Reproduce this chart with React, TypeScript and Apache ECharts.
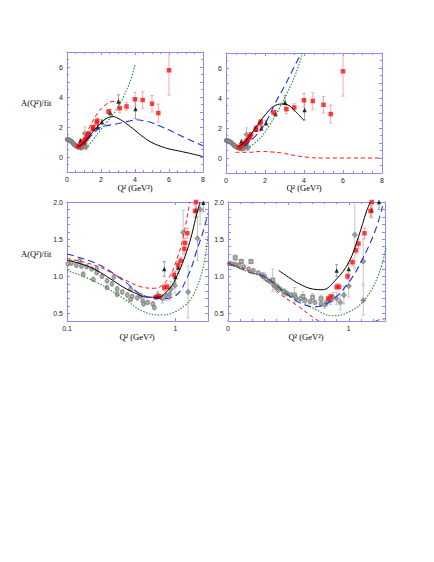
import React, { useEffect, useRef } from "react";
import * as echarts from "echarts";

// ---------- data (Q², A/fit, error) ----------
const grayCircles = [
  [0.01, 1.17, 0.02], [0.03, 1.17, 0.02], [0.06, 1.16, 0.02], [0.09, 1.15, 0.02], [0.13, 1.13, 0.02],
  [0.17, 1.1, 0.02], [0.21, 1.08, 0.02], [0.25, 1.05, 0.02], [0.28, 1.02, 0.02], [0.32, 0.96, 0.03],
  [0.35, 0.93, 0.03], [0.38, 0.9, 0.03], [0.41, 0.86, 0.03], [0.43, 0.83, 0.03], [0.46, 0.8, 0.03],
  [0.49, 0.77, 0.03], [0.52, 0.75, 0.03], [0.56, 0.72, 0.03], [0.6, 0.7, 0.03], [0.64, 0.68, 0.03],
  [0.68, 0.66, 0.03], [0.72, 0.65, 0.03], [0.77, 0.63, 0.03],
];
const graySquaresBR = [
  [0.06, 1.25, 0.04], [0.11, 1.2, 0.03], [0.19, 1.2, 0.03], [0.3, 1.0, 0.05], [0.37, 0.95, 0.15],
  [0.4, 0.85, 0.06], [0.47, 0.78, 0.05], [0.55, 0.75, 0.1], [0.62, 0.73, 0.06], [0.7, 0.72, 0.05],
  [0.77, 0.7, 0.05],
];
const grayDiamondsBR = [
  [0.8, 0.62, 0.05], [0.82, 0.65, 0.05], [0.85, 0.68, 0.06], [0.87, 0.72, 0.06], [0.9, 0.7, 0.08],
  [0.93, 0.65, 0.1], [0.96, 0.75, 0.12], [1.0, 0.87, 0.15], [1.05, 1.56, 0.45], [1.12, 1.2, 0.3],
  [1.12, 0.68, 0.2],
];
const redLow = [
  [0.66, 0.72, 0.03], [0.71, 0.73, 0.03], [0.79, 0.85, 0.04], [0.84, 0.86, 0.04], [0.97, 1.02, 0.04],
  [1.06, 1.15, 0.05], [1.12, 1.21, 0.05], [1.21, 1.37, 0.06], [1.23, 1.45, 0.06], [1.29, 1.58, 0.07],
  [1.52, 1.88, 0.08], [1.55, 2.0, 0.08],
];
const redHigh = [
  [1.75, 2.3, 0.1], [1.78, 2.42, 0.12], [2.44, 3.03, 0.15], [3.1, 3.25, 0.3], [3.5, 3.37, 0.25],
  [4.0, 3.85, 0.45], [4.45, 3.8, 0.55], [5.0, 3.55, 0.55], [5.37, 2.93, 0.6], [6.0, 5.78, 1.65],
];
const redBR = [
  [0.83, 0.7, 0.03], [0.85, 0.73, 0.03], [0.9, 0.86, 0.04], [0.92, 0.86, 0.04], [0.99, 1.0, 0.04],
  [1.03, 1.19, 0.05], [1.06, 1.35, 0.05], [1.08, 1.44, 0.06], [1.13, 1.58, 0.07], [1.18, 1.88, 0.08],
  [1.19, 2.0, 0.08],
];
const blackLow = [[0.79, 1.1, 0.1], [1.0, 0.99, 0.08], [1.06, 1.12, 0.08], [1.55, 1.89, 0.1], [1.81, 1.99, 0.12]];
const blackHigh = [[2.05, 2.33, 0.15], [2.54, 2.97, 0.2], [3.03, 3.7, 0.45], [4.03, 3.2, 0.65]];
const blackBR = [[0.9, 1.08, 0.08], [1.0, 1.1, 0.08], [1.19, 1.89, 0.1], [1.25, 2.0, 0.1]];
const circlesBL = [
  [0.102, 1.17, 0.03], [0.11, 1.18, 0.03], [0.122, 1.15, 0.03], [0.136, 1.14, 0.03], [0.152, 1.13, 0.03],
  [0.169, 1.1, 0.03], [0.188, 1.05, 0.03], [0.21, 1.0, 0.03], [0.234, 0.94, 0.03], [0.26, 0.9, 0.03],
  [0.29, 0.83, 0.03], [0.323, 0.79, 0.03], [0.36, 0.75, 0.03], [0.4, 0.73, 0.03], [0.446, 0.71, 0.03],
  [0.5, 0.67, 0.03], [0.555, 0.65, 0.03], [0.62, 0.63, 0.03],
  [0.141, 1.03, 0.03], [0.175, 0.96, 0.03], [0.234, 0.85, 0.03], [0.29, 0.76, 0.03], [0.386, 0.69, 0.03],
  [0.51, 0.63, 0.03], [0.64, 0.58, 0.03],
  [0.131, 1.21, 0.03], [0.188, 1.1, 0.03], [0.27, 0.99, 0.03], [0.386, 0.83, 0.03], [0.48, 0.74, 0.03],
];
const diamondsBL = [
  [0.69, 0.75, 0.05], [0.76, 0.7, 0.06], [0.82, 0.74, 0.06], [0.88, 0.76, 0.08], [0.91, 0.83, 0.1],
  [0.99, 0.875, 0.1], [1.18, 1.59, 0.3], [1.31, 0.79, 0.35], [1.6, 1.51, 0.3], [1.69, 1.9, 0.2],
];

// ---------- model curves [Q², A/fit] ----------
const blackTL = [[0.6, 0.7], [0.8, 0.78], [1.0, 0.98], [1.25, 1.3], [1.5, 1.65], [1.75, 1.98], [2.0, 2.28], [2.25, 2.52], [2.5, 2.66], [2.7, 2.69], [3.0, 2.58], [3.5, 2.22], [4.0, 1.78], [4.5, 1.32], [5.0, 0.96], [5.5, 0.72], [6.0, 0.54], [6.5, 0.42], [7.0, 0.3], [7.5, 0.17], [8.0, 0.03]];
const blueTL = [[1.2, 1.15], [1.5, 1.5], [1.9, 1.93], [2.3, 2.08], [2.8, 2.18], [3.3, 2.3], [3.8, 2.43], [4.1, 2.48], [4.5, 2.42], [5.0, 2.28], [5.5, 2.05], [6.0, 1.8], [6.5, 1.52], [7.0, 1.25], [7.5, 1.0], [8.0, 0.75]];
const redTL = [[0.62, 0.7], [0.9, 1.1], [1.3, 1.93], [1.8, 2.93], [2.28, 3.49], [2.77, 3.71], [3.1, 3.71]];
const greenTL = [[1.1, 0.6], [1.5, 1.1], [1.99, 1.82], [2.4, 2.4], [2.77, 2.93], [3.1, 3.55], [3.36, 4.1], [3.75, 5.16], [4.0, 6.16]];

const blackTR = [[0.65, 0.78], [0.99, 1.11], [1.5, 2.0], [2.02, 2.89], [2.44, 3.44], [2.87, 3.6], [3.13, 3.56], [3.56, 3.11], [4.0, 2.49]];
const blueTR = [[0.9, 0.78], [1.5, 1.44], [2.02, 2.33], [2.53, 3.67], [3.04, 4.89], [3.47, 6.0], [3.86, 7.0]];
const greenTR = [[1.08, 0.67], [1.68, 1.22], [2.19, 2.11], [2.7, 3.22], [3.13, 4.33], [3.56, 5.56], [3.93, 7.0]];
const redTR = [[0.48, 0.38], [1.16, 0.38], [1.85, 0.44], [2.36, 0.4], [2.87, 0.33], [3.56, 0.16], [4.24, 0.04], [4.9, 0.0], [8.0, 0.0]];

const blackBL = [[0.1, 1.22], [0.14, 1.16], [0.188, 1.08], [0.25, 0.97], [0.335, 0.85], [0.42, 0.78], [0.55, 0.72], [0.69, 0.72], [0.85, 0.81], [1.0, 0.96], [1.31, 1.39], [1.57, 1.83], [1.69, 2.0]];
const redBL = [[0.1, 1.24], [0.188, 1.14], [0.335, 0.96], [0.48, 0.86], [0.64, 0.84], [0.85, 0.96], [1.06, 1.28], [1.22, 1.63], [1.36, 2.0]];
const blueBL = [[0.1, 1.3], [0.188, 1.17], [0.335, 0.94], [0.48, 0.76], [0.74, 0.7], [0.98, 0.73], [1.31, 1.01], [1.6, 1.38], [1.8, 1.6], [2.0, 1.85]];
const greenBL = [[0.1, 1.08], [0.188, 0.92], [0.335, 0.7], [0.5, 0.53], [0.74, 0.48], [0.98, 0.52], [1.2, 0.6], [1.4, 0.7], [1.7, 0.98], [1.9, 1.3], [2.0, 1.55]];

const blackBRc = [[0.42, 1.08], [0.5, 0.99], [0.59, 0.9], [0.7, 0.83], [0.78, 0.82], [0.89, 0.95], [1.0, 1.19], [1.08, 1.53], [1.15, 1.89], [1.18, 2.0]];
const redBRc = [[0, 1.18], [0.17, 1.08], [0.31, 0.95], [0.45, 0.74], [0.59, 0.59], [0.72, 0.43], [0.8, 0.37], [0.95, 0.3], [1.1, 0.33], [1.2, 0.39], [1.25, 0.415], [1.3, 0.43]];
const blueBRc = [[0, 1.18], [0.17, 1.06], [0.31, 0.99], [0.45, 0.81], [0.59, 0.65], [0.72, 0.59], [0.86, 0.68], [1.0, 0.92], [1.11, 1.22], [1.22, 1.62], [1.28, 1.94]];
const greenBRc = [[0, 1.17], [0.17, 1.06], [0.31, 0.98], [0.45, 0.81], [0.59, 0.68], [0.72, 0.56], [0.86, 0.47], [1.0, 0.52], [1.14, 0.7], [1.25, 1.04], [1.31, 1.4]];

const topXTicks = [0, 2, 4, 6, 8];
const topYTicks = [0, 2, 4, 6];
const botYTicks = [0.5, 1.0, 1.5, 2.0];

// ---------- styling ----------
const FRAME = "#8c8cf0";
const RED = "#ff1010";
const PINK = "#f5a0a0";
const BLUE = "#2030e0";
const GREEN = "#1f8a2a";
const GRAY = "#808080";
const LGRAY = "#bdbdbd";

function axisPair(kind: "x" | "y", gridIndex: number, cfg: any) {
  const common: any = {
    gridIndex,
    type: cfg.type || "value",
    min: cfg.min,
    max: cfg.max,
    axisLine: { show: true, onZero: false, lineStyle: { color: FRAME, width: 1 } },
    axisTick: { show: true, inside: true, length: 3, lineStyle: { color: FRAME } },
    minorTick: cfg.minor ? { show: true, splitNumber: cfg.minor, length: 2, lineStyle: { color: FRAME } } : { show: false },
    splitLine: { show: false },
    minorSplitLine: { show: false },
  };
  if (cfg.interval !== undefined) common.interval = cfg.interval;
  if (cfg.logBase) common.logBase = cfg.logBase;
  const main = {
    ...common,
    position: kind === "x" ? "bottom" : "left",
    axisLabel: {
      show: true, fontSize: 7, color: "#222", fontFamily: "Liberation Sans", margin: 4,
      formatter: cfg.fmt, showMinLabel: true, showMaxLabel: true,
    },
  };
  const sec = { ...common, position: kind === "x" ? "top" : "right", axisLabel: { show: false } };
  return [main, sec];
}

const near = (v: number, list: number[]) => list.some((t) => Math.abs(t - v) < 1e-6);

function errBars(data: number[][], g: number, color: string) {
  return {
    type: "custom",
    xAxisIndex: 2 * g,
    yAxisIndex: 2 * g,
    data,
    clip: true,
    silent: true,
    z: 1,
    encode: { x: 0, y: 1 },
    renderItem: (_p: any, api: any) => {
      const x = api.value(0), y = api.value(1), e = api.value(2);
      const a = api.coord([x, y - e]);
      const b = api.coord([x, y + e]);
      const hw = 1.6;
      const st = { stroke: color, lineWidth: 0.9 };
      return {
        type: "group",
        children: [
          { type: "line", shape: { x1: a[0], y1: a[1], x2: b[0], y2: b[1] }, style: st },
          { type: "line", shape: { x1: a[0] - hw, y1: a[1], x2: a[0] + hw, y2: a[1] }, style: st },
          { type: "line", shape: { x1: b[0] - hw, y1: b[1], x2: b[0] + hw, y2: b[1] }, style: st },
        ],
      };
    },
  };
}

function pts(data: number[][], g: number, symbol: string, size: number, color: string, bw = 0.6) {
  return {
    type: "scatter",
    xAxisIndex: 2 * g,
    yAxisIndex: 2 * g,
    data: data.map((d) => [d[0], d[1]]),
    symbol,
    symbolSize: size,
    clip: true,
    z: 3,
    itemStyle: { color, borderWidth: bw },
  };
}

function curve(data: number[][], g: number, color: string, dash: any, width = 1) {
  return {
    type: "line",
    xAxisIndex: 2 * g,
    yAxisIndex: 2 * g,
    data,
    smooth: 0.4,
    showSymbol: false,
    symbol: "none",
    clip: true,
    z: 4,
    lineStyle: { color, width, type: dash },
  };
}

function dataSeries(g: number, sets: any) {
  const out: any[] = [];
  if (sets.squares) out.push(errBars(sets.squares, g, LGRAY), pts(sets.squares, g, "emptyRect", 3, GRAY));
  out.push(errBars(sets.circles, g, LGRAY), pts(sets.circles, g, "emptyCircle", 3, GRAY));
  out.push(errBars(sets.diamonds, g, LGRAY), pts(sets.diamonds, g, "emptyDiamond", 3.5, GRAY));
  out.push(errBars(sets.black, g, "#999"), pts(sets.black, g, "triangle", 4.5, "#000"));
  out.push(errBars(sets.red, g, PINK), pts(sets.red, g, "rect", 4.5, RED));
  return out;
}

export default function App() {
  const ref = useRef<HTMLDivElement>(null);
  useEffect(() => {
    if (!ref.current) return;
    const chart = echarts.init(ref.current, undefined, { renderer: "svg" });

    const topX = { min: 0, max: 8, interval: 2, minor: 4, fmt: (v: number) => (near(v, topXTicks) ? String(v) : "") };
    const topY = { min: -1, max: 7, interval: 1, minor: 2, fmt: (v: number) => (near(v, topYTicks) ? String(v) : "") };
    const botY = { min: 0.4, max: 2.0, interval: 0.1, fmt: (v: number) => (near(v, botYTicks) ? v.toFixed(1) : "") };
    const blX = { type: "log", min: 0.1, max: 2, logBase: 10, fmt: (v: number) => (near(v, [0.1]) ? "0.1" : near(v, [1]) ? "1" : "") };
    const brX = { min: 0, max: 1.3, interval: 0.5, minor: 5, fmt: (v: number) => (near(v, [0, 1]) ? String(Math.round(v)) : "") };

    const xAxis = [
      ...axisPair("x", 0, topX), ...axisPair("x", 1, topX),
      ...axisPair("x", 2, blX), ...axisPair("x", 3, brX),
    ];
    const yAxis = [
      ...axisPair("y", 0, topY), ...axisPair("y", 1, topY),
      ...axisPair("y", 2, botY), ...axisPair("y", 3, botY),
    ];

    const topSets = {
      circles: grayCircles, diamonds: grayDiamondsBR,
      black: [...blackLow, ...blackHigh], red: [...redLow, ...redHigh],
    };

    const series: any[] = [
      ...dataSeries(0, topSets),
      curve(blackTL, 0, "#000", "solid"),
      curve(blueTL, 0, BLUE, [7, 4], 1.1),
      curve(redTL, 0, RED, [4, 3]),
      curve(greenTL, 0, GREEN, [1.5, 1.5], 1.1),

      ...dataSeries(1, topSets),
      curve(blackTR, 1, "#000", "solid"),
      curve(blueTR, 1, BLUE, [7, 4], 1.1),
      curve(redTR, 1, RED, [4, 3]),
      curve(greenTR, 1, GREEN, [1.5, 1.5], 1.1),

      ...dataSeries(2, { circles: circlesBL, diamonds: diamondsBL, black: blackLow, red: redLow }),
      curve(blackBL, 2, "#000", "solid"),
      curve(blueBL, 2, BLUE, [7, 4], 1.1),
      curve(redBL, 2, RED, [4, 3]),
      curve(greenBL, 2, GREEN, [1.5, 1.5], 1.1),

      ...dataSeries(3, { squares: graySquaresBR, circles: grayCircles, diamonds: grayDiamondsBR, black: blackBR, red: redBR }),
      curve(blackBRc, 3, "#000", "solid"),
      curve(blueBRc, 3, BLUE, [7, 4], 1.1),
      curve(redBRc, 3, RED, [4, 3]),
      curve(greenBRc, 3, GREEN, [1.5, 1.5], 1.1),
    ];

    const titleStyle = (text: string, align: string) => ({
      text, fontSize: 8.5, fontFamily: "Liberation Serif", fill: "#000", align, verticalAlign: "middle",
    });

    chart.setOption({
      animation: false,
      backgroundColor: "#fff",
      grid: [
        { left: 67, top: 52, width: 136, height: 120 },
        { left: 226, top: 53, width: 156, height: 120 },
        { left: 67, top: 202, width: 141, height: 119 },
        { left: 228, top: 202, width: 157, height: 119 },
      ],
      xAxis,
      yAxis,
      series,
      graphic: [
        { type: "text", x: 21, y: 103, style: titleStyle("A(Q²)/fit", "left") },
        { type: "text", x: 21, y: 254, style: titleStyle("A(Q²)/fit", "left") },
        { type: "text", x: 135, y: 188, style: titleStyle("Q² (GeV²)", "center") },
        { type: "text", x: 304, y: 188, style: titleStyle("Q² (GeV²)", "center") },
        { type: "text", x: 137, y: 337, style: titleStyle("Q² (GeV²)", "center") },
        { type: "text", x: 306, y: 337, style: titleStyle("Q² (GeV²)", "center") },
      ],
    });
    return () => chart.dispose();
  }, []);
  return (
    <div
      ref={ref}
      style={{ position: "absolute", left: 0, top: 0, width: 434, height: 562, background: "#fff" }}
    />
  );
}
